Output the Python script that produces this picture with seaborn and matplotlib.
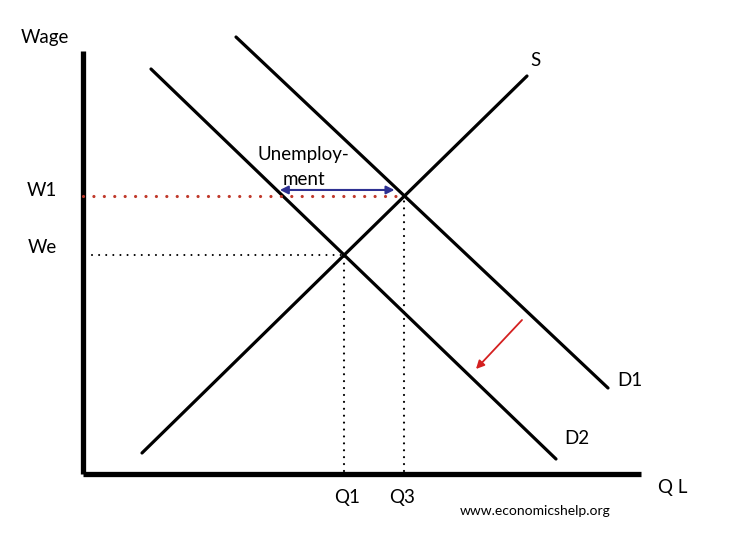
import numpy as np
import pandas as pd
import seaborn as sns
import matplotlib.pyplot as plt

# diagram data (quantity of labour, wage) measured from the axis corner
axis_q = [0, 558]
axis_w = [0, 423]
supply_q = [59, 444]
supply_w = [21, 398]
d1_q = [153, 525]
d1_w = [437, 86]
d2_q = [68, 473]
d2_w = [405, 15]
unemp_w_offset = 6
shift_from = [439, 154]
shift_to = [393, 105]
we_line_start = 9


def line_coef(q, w):
    m = (w[1] - w[0]) / (q[1] - q[0])
    return m, w[0] - m * q[0]


def cross(a, b):
    m1, c1 = a
    m2, c2 = b
    q = (c2 - c1) / (m1 - m2)
    return q, m1 * q + c1


s_line = line_coef(supply_q, supply_w)
q3, w1 = cross(s_line, line_coef(d1_q, d1_w))
q1, we = cross(s_line, line_coef(d2_q, d2_w))
w1_left, _ = cross((0, w1), line_coef(d2_q, d2_w))

df = pd.concat([
    pd.DataFrame({"q": supply_q, "w": supply_w, "curve": "S"}),
    pd.DataFrame({"q": d1_q, "w": d1_w, "curve": "D1"}),
    pd.DataFrame({"q": d2_q, "w": d2_w, "curve": "D2"}),
])

sns.set_style("white")
plt.rcParams["font.family"] = ["Lato", "DejaVu Sans"]
plt.rcParams["text.color"] = "black"

fig = plt.figure(figsize=(7.32, 5.40), dpi=100)
ax = fig.add_axes([0, 0, 1, 1])
ax.set_xlim(-83, 649)
ax.set_ylim(-66, 474)
ax.axis("off")

sns.lineplot(data=df, x="q", y="w", units="curve", estimator=None,
             color="black", linewidth=2.3, sort=False, ax=ax)

# axes
ax.plot([0, 0], axis_w, color="black", lw=3.8, solid_capstyle="butt")
ax.plot(axis_q, [0, 0], color="black", lw=3.8, solid_capstyle="butt")

# dotted guides
ax.plot([0, q3], [w1, w1], color="#c0392b", lw=2.3,
        linestyle=(0, (0.01, 3.25)), dash_capstyle="round")
ax.plot([we_line_start, q1], [we, we], color="black", lw=1.5,
        linestyle=(0, (0.01, 3.4)), dash_capstyle="round")
ax.plot([q1, q1], [3, we], color="black", lw=1.6,
        linestyle=(0, (0.01, 3.1)), dash_capstyle="round")
ax.plot([q3, q3], [3, w1], color="black", lw=1.6,
        linestyle=(0, (0.01, 3.1)), dash_capstyle="round")

# unemployment arrow
ax.annotate("", xy=(w1_left - 3, w1 + unemp_w_offset),
            xytext=(q3 - 10, w1 + unemp_w_offset),
            arrowprops=dict(arrowstyle="<|-|>", color="#2e3192", lw=1.5,
                            mutation_scale=12, shrinkA=0, shrinkB=0))
ax.text((w1_left + q3) / 2 - 40, w1 + 8, "Unemploy-\nment", ha="center",
        va="bottom", fontsize=13.5, linespacing=1.6)

# demand shift arrow
ax.annotate("", xy=shift_to, xytext=shift_from,
            arrowprops=dict(arrowstyle="-|>", color="#d42020", lw=1.3,
                            mutation_scale=12, shrinkA=0, shrinkB=0))

fs = 13.5
ax.text(-38, 437, "Wage", ha="center", va="center", fontsize=fs)
ax.text(-41, w1 + 5, "W1", ha="center", va="center", fontsize=fs)
ax.text(-41, we + 8, "We", ha="center", va="center", fontsize=fs)
ax.text(452, 413, "S", ha="center", va="center", fontsize=fs)
ax.text(547, 94, "D1", ha="center", va="center", fontsize=fs)
ax.text(494, 36, "D2", ha="center", va="center", fontsize=fs)
ax.text(q1 + 3, -24, "Q1", ha="center", va="center", fontsize=fs)
ax.text(q3 - 2, -24, "Q3", ha="center", va="center", fontsize=fs)
ax.text(590, -13, "Q L", ha="center", va="center", fontsize=fs)
ax.text(452, -37, "www.economicshelp.org", ha="center", va="center",
        fontsize=10)

fig.savefig("out.png", dpi=100)
